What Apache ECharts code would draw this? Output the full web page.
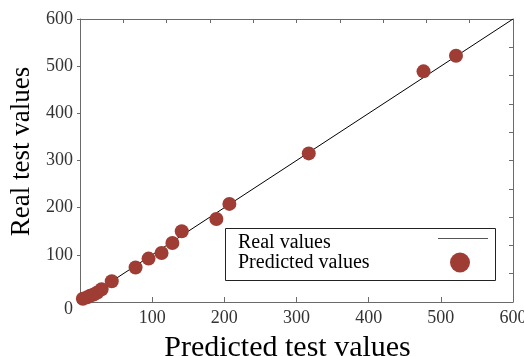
<!DOCTYPE html>
<html><head><meta charset="utf-8">
<script src="https://cdn.jsdelivr.net/npm/echarts@6/dist/echarts.min.js"></script>
<style>html,body{margin:0;padding:0;background:#fff}#c{width:524px;height:356px}</style>
</head><body><div id="c"></div>
<script>
const predicted = [4, 10, 14, 19, 24, 30, 44, 77, 95, 113, 128, 141, 189, 207, 317, 476, 521];
const real      = [7, 10, 13, 16, 20, 27, 44, 73, 92, 104, 125, 150, 176, 208, 315, 489, 522];
const refLine = [[0, 0], [600, 600]];
const xTitle = 'Predicted test values';
const yTitle = 'Real test values';
const legendNames = ['Real values', 'Predicted values'];

const FONT = '"Liberation Serif", "DejaVu Serif", serif';
const AX = '#6a6a6a';
const DOT = '#9f3d35';

const chart = echarts.init(document.getElementById('c'), null, {renderer: 'canvas'});
chart.setOption({
  animation: false,
  backgroundColor: '#fff',
  grid: {left: 80, right: 11, top: 19, bottom: 54, containLabel: false, outerBoundsMode: 'none'},
  xAxis: [{
    type: 'value', min: 0, max: 600, interval: 100, position: 'bottom',
    name: xTitle, nameLocation: 'middle', nameGap: 31,
    nameTextStyle: {fontFamily: FONT, fontSize: 30, color: '#000', padding: [0, 18, 0, 0]},
    axisLine: {show: true, onZero: false, lineStyle: {color: AX, width: 1}},
    axisTick: {show: true, inside: true, length: 5, lineStyle: {color: AX}},
    axisLabel: {fontFamily: FONT, fontSize: 18, color: '#333', margin: 7, showMinLabel: false},
    splitLine: {show: false}
  }, {
    type: 'value', min: 0, max: 600, interval: 60, position: 'top',
    axisLine: {show: true, onZero: false, lineStyle: {color: AX, width: 1}},
    axisTick: {show: true, inside: true, length: 4, lineStyle: {color: AX}},
    axisLabel: {show: false}, splitLine: {show: false}
  }],
  yAxis: [{
    type: 'value', min: 0, max: 600, interval: 100, position: 'left',
    name: yTitle, nameLocation: 'middle', nameGap: 45, nameRotate: 90,
    nameTextStyle: {fontFamily: FONT, fontSize: 27, color: '#000', padding: [0, 0, 0, 18]},
    axisLine: {show: true, onZero: false, lineStyle: {color: AX, width: 1}},
    axisTick: {show: true, inside: false, length: 3, lineStyle: {color: AX}},
    axisLabel: {
      fontFamily: FONT, fontSize: 18, color: '#333', margin: 7,
      formatter: v => v === 0 ? '{z|0}' : String(v),
      rich: {z: {fontFamily: FONT, fontSize: 18, color: '#333', padding: [14, 0, 0, 0]}}
    },
    splitLine: {show: false}
  }, {
    type: 'value', min: 0, max: 600, interval: 60, position: 'right',
    axisLine: {show: true, onZero: false, lineStyle: {color: AX, width: 1}},
    axisTick: {show: true, inside: true, length: 4, lineStyle: {color: AX}},
    axisLabel: {show: false}, splitLine: {show: false}
  }],
  series: [{
    name: legendNames[0], type: 'line', data: refLine, symbol: 'none',
    lineStyle: {color: '#000', width: 1}, z: 2
  }, {
    name: legendNames[1], type: 'scatter',
    data: predicted.map((p, i) => [p, real[i]]),
    symbolSize: 14, itemStyle: {color: DOT, opacity: 1}, z: 3
  }],
  graphic: [
    {type: 'rect', shape: {x: 225.5, y: 228.5, width: 270, height: 52},
     style: {fill: '#fff', stroke: '#222', lineWidth: 1}, z: 10},
    {type: 'text', x: 238, y: 243, style: {text: legendNames[0], font: '20px ' + FONT, fill: '#000', textVerticalAlign: 'middle'}, z: 11},
    {type: 'text', x: 238, y: 263, style: {text: legendNames[1], font: '20px ' + FONT, fill: '#000', textVerticalAlign: 'middle'}, z: 11},
    {type: 'line', shape: {x1: 438, y1: 238.5, x2: 488, y2: 238.5}, style: {stroke: '#555', lineWidth: 1.2}, z: 11},
    {type: 'circle', shape: {cx: 460, cy: 262.5, r: 10}, style: {fill: DOT}, z: 11}
  ]
});
</script></body></html>
